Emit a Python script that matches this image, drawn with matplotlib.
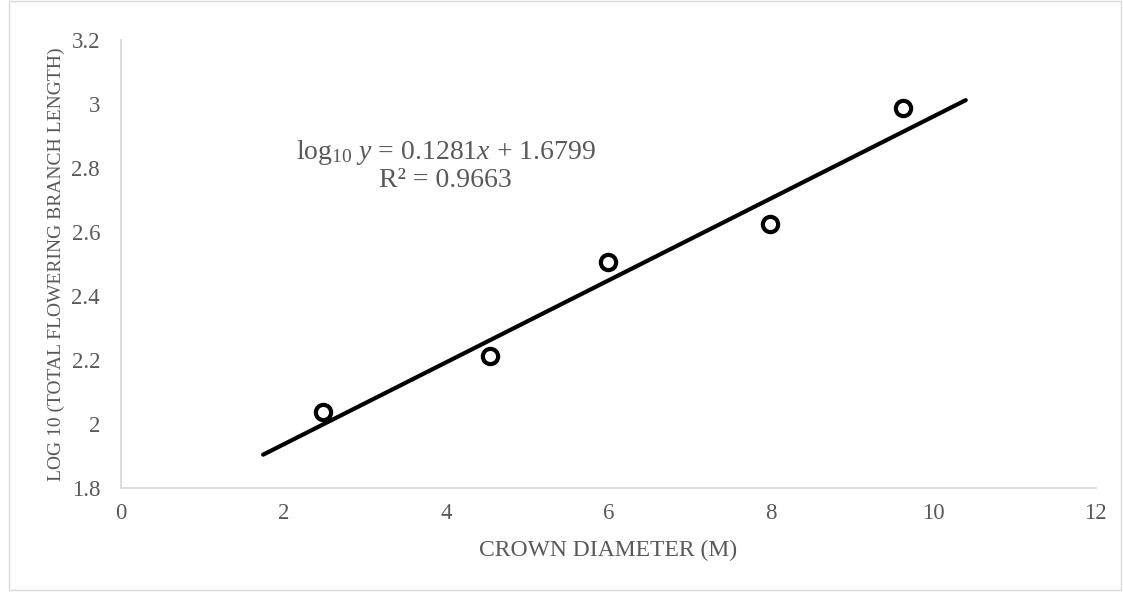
import matplotlib
matplotlib.use("Agg")
import matplotlib.pyplot as plt
from matplotlib.patches import Rectangle

# crown diameter (m) vs log10 of total flowering branch length
crown_diameter = [2.49, 4.54, 5.99, 7.99, 9.63]
log_branch_length = [2.037, 2.213, 2.507, 2.624, 2.988]

# Excel-style linear trendline
slope = 0.1281
intercept = 1.6799
trend_x = [1.75, 10.4]
trend_y = [slope * x + intercept for x in trend_x]

x_ticks = [0, 2, 4, 6, 8, 10, 12]
y_ticks = [1.8, 2, 2.2, 2.4, 2.6, 2.8, 3, 3.2]
y_tick_labels = ["1.8", "2", "2.2", "2.4", "2.6", "2.8", "3", "3.2"]

plt.rcParams['font.family'] = ['Liberation Serif', 'DejaVu Serif']
plt.rcParams['mathtext.fontset'] = 'custom'
plt.rcParams['mathtext.rm'] = 'Liberation Serif'
plt.rcParams['mathtext.it'] = 'Liberation Serif:italic'

fig = plt.figure(figsize=(11.23, 5.92), dpi=100)
ax = fig.add_axes([0.1077, 0.1757, 0.868, 0.7567])

ax.plot(trend_x, trend_y, color='black', linewidth=3, solid_capstyle='round', zorder=2)
ax.plot(crown_diameter, log_branch_length, linestyle='none', marker='o',
        markersize=11, markerfacecolor='white', markeredgecolor='black',
        markeredgewidth=3, zorder=3)

ax.set_xlim(0, 12)
ax.set_ylim(1.8, 3.2)
ax.set_xticks(x_ticks)
ax.set_yticks(y_ticks)
ax.set_yticklabels(y_tick_labels)
ax.tick_params(length=0, labelsize=16.5, labelcolor='#595959')
ax.tick_params(axis='x', pad=11)
ax.tick_params(axis='y', pad=15)

for side in ['top', 'right']:
    ax.spines[side].set_visible(False)
for side in ['left', 'bottom']:
    ax.spines[side].set_color('#d9d9d9')
    ax.spines[side].set_linewidth(1.3)

ax.set_xlabel('CROWN DIAMETER (M)', fontsize=17, color='#595959', labelpad=11)
ax.set_ylabel('LOG 10 (TOTAL FLOWERING BRANCH LENGTH)', fontsize=14, color='#595959', labelpad=5)

ax.text(4.0, 2.85, r'log$_{10}$ $\mathit{y}$ = 0.1281$\mathit{x}$ + 1.6799', fontsize=20,
        color='#595959', ha='center', va='center')
ax.text(4.0, 2.762, 'R² = 0.9663', fontsize=20, color='#595959', ha='center', va='center')

# thin outer frame around the chart
fig.patches.append(Rectangle((0.008, 0.003), 0.99, 0.995, transform=fig.transFigure,
                             fill=False, edgecolor='#d9d9d9', linewidth=1))

fig.savefig('out.png', dpi=100)
